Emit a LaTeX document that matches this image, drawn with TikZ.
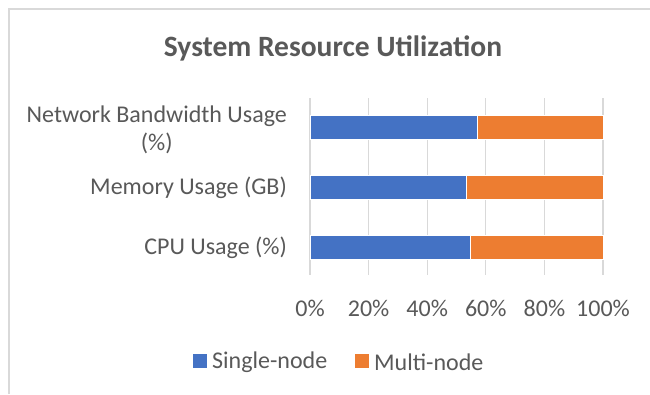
\documentclass[tikz,border=0pt]{standalone}
\usepackage{fontspec}
\setmainfont{Carlito}
\definecolor{txt}{HTML}{595959}
\definecolor{gridc}{HTML}{D9D9D9}
\definecolor{sblue}{HTML}{4472C4}
\definecolor{sorange}{HTML}{ED7D31}
\tikzset{
  lbl/.style={text=txt, font=\fontsize{24}{28}\selectfont, inner sep=0pt},
  ttl/.style={text=txt, font=\fontsize{29.5}{34}\selectfont\bfseries, inner sep=0pt},
  gridline/.style={draw=gridc, line width=1.3pt},
  barS/.style={fill=sblue, draw=white, line width=0.4pt},
  barM/.style={fill=sorange, draw=white, line width=0.4pt},
}
\begin{document}
\begin{tikzpicture}[x=1pt,y=-1pt]
\useasboundingbox (0,0) rectangle (650,394);
\fill[white] (0,0) rectangle (650,394);
\draw[draw=gridc, line width=1.6pt] (9,394) -- (9,9) -- (650,9);
% gridlines
\foreach \i in {0,...,5} {
  \draw[gridline] ({310+58.6*\i},98) -- ({310+58.6*\i},275);
}
% bars
\fill[barS] (310,115) rectangle (477.3,139);
\fill[barM] (477.3,115) rectangle (603,139);
\fill[barS] (310,175) rectangle (466,199);
\fill[barM] (466,175) rectangle (603,199);
\fill[barS] (310,235) rectangle (470.3,259);
\fill[barM] (470.3,235) rectangle (603,259);
% title
\node[ttl] (title) at (333,48) {System Resource Utilization};
% category labels
\node[lbl, anchor=east, align=center] (net) at (287,130) {Network Bandwidth Usage\\(\%)};
\node[lbl, anchor=east] (mem) at (287,188) {Memory Usage (GB)};
\node[lbl, anchor=east] (cpu) at (287,248) {CPU Usage (\%)};
% tick labels
\node[lbl] (t0) at (310,308) {0\%};
\node[lbl] (t1) at (368.6,308) {20\%};
\node[lbl] (t2) at (427.2,308) {40\%};
\node[lbl] (t3) at (485.8,308) {60\%};
\node[lbl] (t4) at (544.4,308) {80\%};
\node[lbl] (t5) at (603,308) {100\%};
% legend
\fill[sblue] (193,354) rectangle (207,368);
\node[lbl, anchor=west] (lS) at (212,362) {Single-node};
\fill[sorange] (355,354) rectangle (369,368);
\node[lbl, anchor=west] (lM) at (374,362) {Multi-node};
\end{tikzpicture}
\end{document}
